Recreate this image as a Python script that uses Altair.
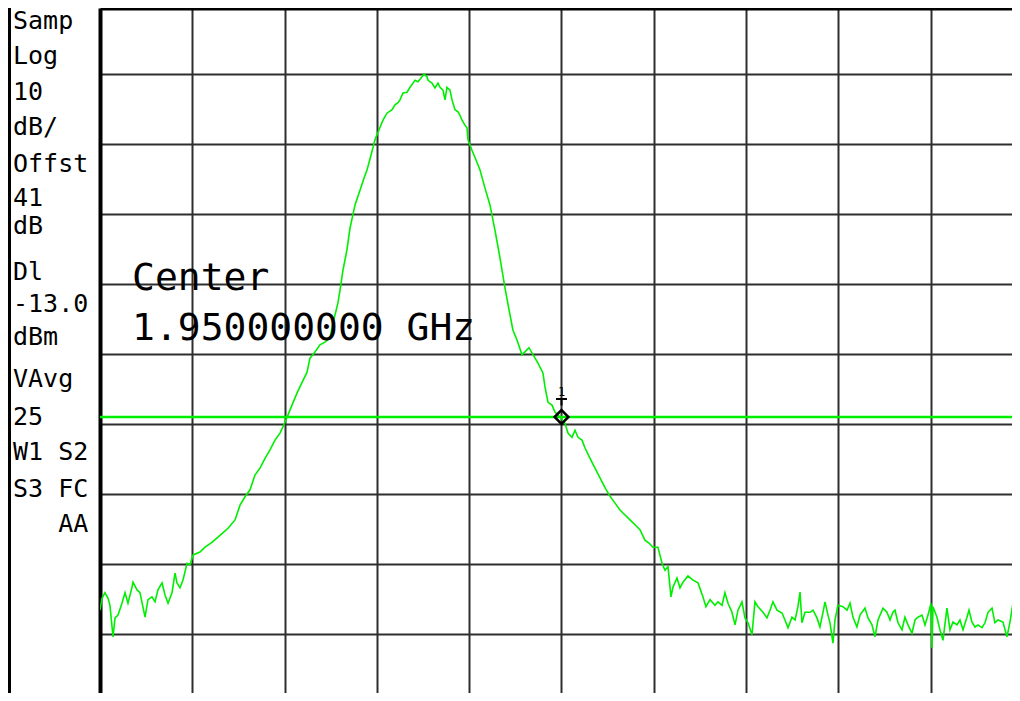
import altair as alt
import pandas as pd

FREQ_MHZ = [
    1945.000, 1945.022, 1945.054, 1945.087, 1945.108, 1945.141, 1945.163, 1945.195, 1945.238, 1945.271,
    1945.303, 1945.347, 1945.358, 1945.401, 1945.433, 1945.488, 1945.520, 1945.563, 1945.596, 1945.628,
    1945.672, 1945.704, 1945.737, 1945.780, 1945.813, 1945.834, 1945.867, 1945.899, 1945.943, 1945.975,
    1946.008, 1946.083, 1946.138, 1946.213, 1946.300, 1946.387, 1946.463, 1946.517, 1946.571, 1946.625,
    1946.679, 1946.733, 1946.788, 1946.842, 1946.896, 1946.950, 1946.993, 1947.037, 1947.080, 1947.134,
    1947.188, 1947.243, 1947.275, 1947.329, 1947.383, 1947.438, 1947.492, 1947.524, 1947.578, 1947.600,
    1947.633, 1947.676, 1947.709, 1947.763, 1947.817, 1947.860, 1947.893, 1947.936, 1947.979, 1948.001,
    1948.034, 1948.066, 1948.109, 1948.164, 1948.196, 1948.229, 1948.250, 1948.283, 1948.326, 1948.359,
    1948.391, 1948.413, 1948.445, 1948.489, 1948.510, 1948.543, 1948.554, 1948.597, 1948.629, 1948.662,
    1948.684, 1948.716, 1948.738, 1948.759, 1948.792, 1948.814, 1948.846, 1948.879, 1948.900, 1948.922,
    1948.954, 1948.976, 1948.987, 1949.030, 1949.084, 1949.117, 1949.171, 1949.225, 1949.279, 1949.334,
    1949.388, 1949.442, 1949.474, 1949.518, 1949.572, 1949.604, 1949.648, 1949.691, 1949.745, 1949.799,
    1949.821, 1949.854, 1949.897, 1949.929, 1949.984, 1950.038, 1950.070, 1950.114, 1950.146, 1950.179,
    1950.222, 1950.254, 1950.309, 1950.363, 1950.417, 1950.471, 1950.525, 1950.580, 1950.634, 1950.688,
    1950.742, 1950.796, 1950.850, 1950.904, 1950.948, 1950.991, 1951.045, 1951.089, 1951.121, 1951.154,
    1951.186, 1951.208, 1951.251, 1951.284, 1951.316, 1951.370, 1951.425, 1951.479, 1951.533, 1951.565,
    1951.609, 1951.663, 1951.695, 1951.739, 1951.771, 1951.804, 1951.847, 1951.880, 1951.912, 1951.955,
    1951.988, 1952.021, 1952.064, 1952.096, 1952.129, 1952.183, 1952.226, 1952.259, 1952.291, 1952.335,
    1952.389, 1952.421, 1952.454, 1952.497, 1952.530, 1952.562, 1952.584, 1952.605, 1952.638, 1952.692,
    1952.725, 1952.768, 1952.800, 1952.833, 1952.855, 1952.887, 1952.909, 1952.941, 1952.963, 1952.995,
    1953.050, 1953.093, 1953.126, 1953.158, 1953.201, 1953.234, 1953.288, 1953.321, 1953.364, 1953.396,
    1953.429, 1953.483, 1953.526, 1953.559, 1953.591, 1953.613, 1953.646, 1953.689, 1953.721, 1953.754,
    1953.797, 1953.830, 1953.862, 1953.906, 1953.938, 1953.971, 1954.003, 1954.014, 1954.025, 1954.068,
    1954.100, 1954.133, 1954.176, 1954.209, 1954.241, 1954.285, 1954.317, 1954.350, 1954.393, 1954.415,
    1954.447, 1954.480, 1954.512, 1954.556, 1954.588, 1954.621, 1954.664, 1954.696, 1954.729, 1954.783,
    1954.826, 1954.859, 1954.891, 1954.934, 1954.956,
]
LEVEL_DBM = [
    -40.6, -38.9, -38.1, -38.9, -39.9, -44.4, -41.7, -41.3, -39.6, -38.1,
    -39.6, -37.3, -36.6, -37.7, -38.1, -41.6, -39.1, -38.7, -39.4, -37.7,
    -36.7, -38.4, -39.6, -38.1, -35.3, -36.7, -37.4, -36.3, -33.9, -34.1,
    -32.7, -32.3, -31.6, -30.9, -29.9, -28.9, -27.7, -25.6, -24.4, -23.4,
    -21.3, -20.3, -18.9, -17.7, -16.3, -15.3, -14.1, -12.7, -11.3, -9.6,
    -8.1, -6.6, -4.6, -3.7, -2.7, -2.3, -1.7, 0.4, 3.3, 5.1,
    8.0, 10.9, 14.0, 17.3, 19.4, 21.1, 22.3, 24.4, 26.6, 27.3,
    28.4, 29.4, 30.4, 30.9, 31.6, 31.9, 32.3, 33.3, 33.4, 34.1,
    34.7, 35.1, 34.9, 35.6, 36.0, 35.6, 35.1, 34.7, 34.0, 34.7,
    34.1, 33.7, 32.3, 34.1, 33.7, 32.3, 30.9, 30.6, 30.1, 29.4,
    28.7, 28.3, 26.6, 25.1, 23.4, 22.3, 19.7, 17.3, 13.7, 9.7,
    5.4, 1.6, -0.6, -2.0, -4.1, -3.7, -3.1, -4.1, -5.3, -6.7,
    -8.7, -10.9, -11.3, -12.3, -13.0, -13.9, -15.3, -15.9, -14.9, -15.9,
    -16.3, -17.4, -18.9, -20.3, -21.7, -23.1, -24.3, -25.3, -26.3, -27.0,
    -27.7, -28.4, -29.1, -30.6, -31.0, -31.6, -31.6, -33.9, -34.9, -34.4,
    -38.7, -37.3, -36.0, -37.4, -36.6, -35.7, -36.3, -36.7, -38.7, -40.1,
    -39.1, -39.9, -39.4, -39.9, -38.1, -39.6, -40.9, -42.7, -40.6, -39.4,
    -41.7, -42.4, -44.1, -39.4, -40.1, -40.9, -41.7, -40.6, -39.4, -40.6,
    -41.0, -42.0, -43.1, -41.6, -42.0, -40.1, -38.0, -42.4, -40.9, -40.9,
    -40.6, -41.7, -43.0, -40.9, -39.4, -41.3, -42.4, -45.3, -42.0, -39.9,
    -40.1, -40.6, -39.6, -41.6, -43.0, -41.3, -40.3, -41.7, -42.7, -44.4,
    -42.0, -40.3, -40.9, -42.0, -40.9, -40.6, -42.4, -43.4, -41.6, -42.7,
    -43.9, -42.0, -41.6, -41.3, -42.7, -41.3, -39.6, -46.0, -40.1, -41.6,
    -43.4, -44.9, -40.3, -43.4, -42.3, -42.7, -42.0, -43.4, -41.6, -40.6,
    -42.3, -43.0, -42.7, -43.1, -42.4, -40.9, -40.3, -42.4, -42.0, -42.3,
    -44.4, -42.3, -39.6, -41.7, -42.4,
]

REF_LEVEL_DBM = 46.0       # top graticule line
DB_PER_DIV = 10.0
START_MHZ = 1945.0
MHZ_PER_DIV = 1.0
DISPLAY_LINE_DBM = -13.0
MARKER_FREQ_MHZ = 1950.0
MARKER_LEVEL_DBM = -13.0

LEFT_LABELS = ["Samp", "Log", "10", "dB/", "Offst", "41", "dB", "Dl", "-13.0",
               "dBm", "VAvg", "25", "W1 S2", "S3 FC", "   AA"]
CENTER_LABELS = ["Center", "1.950000000 GHz"]

# ---------------- layout (pixels) ----------------
PLOT_W, PLOT_H = 912, 685          # keep the page free of scrolling
PX_PER_DIV_X, PX_PER_DIV_Y = 92.3, 70.0
TOP_CUT_PX = 4.0                   # top graticule sits just above the visible view
LEFT_BASELINES = [29, 64, 100, 135, 172, 206, 234, 280, 312, 345, 387, 425, 460, 497, 532]
LEFT_FONT_SIZE = 25
CHAR_W = 0.602 * LEFT_FONT_SIZE    # DejaVu Sans Mono advance width
GREEN = "#00ee00"
GRID = "#2e2e2e"
MONO = "DejaVu Sans Mono"

y_top = REF_LEVEL_DBM - TOP_CUT_PX / PX_PER_DIV_Y * DB_PER_DIV
y_bot = y_top - PLOT_H / PX_PER_DIV_Y * DB_PER_DIV
x_lo = START_MHZ
x_hi = START_MHZ + PLOT_W / PX_PER_DIV_X * MHZ_PER_DIV

grid_x = [START_MHZ + i * MHZ_PER_DIV for i in range(1, 10)]
grid_y = [REF_LEVEL_DBM - i * DB_PER_DIV for i in range(1, 10)]

trace_df = pd.DataFrame({"freq": FREQ_MHZ, "level": LEVEL_DBM})

xs = alt.Scale(domain=[x_lo, x_hi], nice=False, zero=False)
ys = alt.Scale(domain=[y_bot, y_top], nice=False, zero=False)

x_enc = alt.X("freq:Q", scale=xs, axis=alt.Axis(
    orient="top", values=grid_x, grid=True, gridColor=GRID, gridWidth=2, gridOpacity=1,
    labels=False, ticks=False, domain=True, domainColor="black", domainWidth=4, title=None))
y_enc = alt.Y("level:Q", scale=ys, axis=alt.Axis(
    orient="left", values=grid_y, grid=True, gridColor=GRID, gridWidth=2, gridOpacity=1,
    labels=False, ticks=False, domain=True, domainColor="black", domainWidth=4, title=None))

trace = alt.Chart(trace_df).mark_line(color=GREEN, strokeWidth=1.6, clip=True).encode(x=x_enc, y=y_enc)

dl = alt.Chart(pd.DataFrame({"level": [DISPLAY_LINE_DBM]})).mark_rule(
    color=GREEN, strokeWidth=2.5).encode(y=alt.Y("level:Q", scale=ys))

mk_df = pd.DataFrame({"freq": [MARKER_FREQ_MHZ], "level": [MARKER_LEVEL_DBM]})
marker = alt.Chart(mk_df).mark_point(shape="diamond", filled=False, color="black",
                                     strokeWidth=2.5, size=190, opacity=1).encode(
    x=alt.X("freq:Q", scale=xs), y=alt.Y("level:Q", scale=ys))
marker_bar = alt.Chart(mk_df).mark_point(shape="M-1,0L1,0M0,0L0,1.2", filled=False, color="black",
                                         strokeWidth=2, size=120, opacity=1, yOffset=-18).encode(
    x=alt.X("freq:Q", scale=xs), y=alt.Y("level:Q", scale=ys))
marker_num = alt.Chart(mk_df.assign(t="1")).mark_text(font=MONO, fontSize=12, color="black",
                                                      baseline="alphabetic", dy=-21).encode(
    x=alt.X("freq:Q", scale=xs), y=alt.Y("level:Q", scale=ys), text="t:N")

layers = [trace, dl, marker, marker_bar, marker_num]

# left annotation panel (monospace columns; leading blanks become an indent)
for label, base in zip(LEFT_LABELS, LEFT_BASELINES):
    indent = len(label) - len(label.lstrip(" "))
    lab = label.strip().replace(" ", "\u00a0")
    layers.append(alt.Chart(pd.DataFrame({"t": [lab]})).mark_text(
        font=MONO, fontSize=LEFT_FONT_SIZE, color="black", align="left", baseline="alphabetic").encode(
        x=alt.value(13 - 100 + indent * CHAR_W), y=alt.value(base - 8), text="t:N"))

# left panel frame line
layers.append(alt.Chart(pd.DataFrame({"a": [0]})).mark_rule(color="black", strokeWidth=3).encode(
    x=alt.value(-90.5), y=alt.value(0), y2=alt.value(PLOT_H)))

# centre frequency annotation
for label, base in zip(CENTER_LABELS, [290, 340]):
    layers.append(alt.Chart(pd.DataFrame({"t": [label]})).mark_text(
        font=MONO, fontSize=38, color="black", align="left", baseline="alphabetic").encode(
        x=alt.value(132 - 100), y=alt.value(base - 8), text="t:N"))

chart = alt.layer(*layers).properties(
    width=PLOT_W, height=PLOT_H,
    autosize=alt.AutoSizeParams(type="none"),
    padding={"left": 92, "top": 0, "right": 0, "bottom": 0},
    background="white",
).configure_view(strokeWidth=0)

chart.save("out.html", embed_options={"renderer": "svg", "actions": False})
